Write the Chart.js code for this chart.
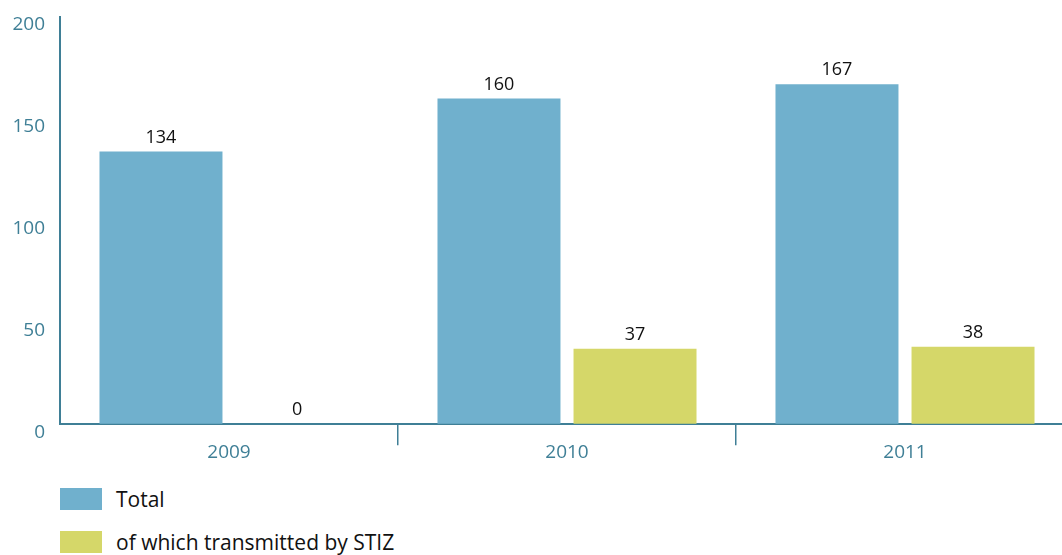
<!DOCTYPE html>
<html>
<head>
<meta charset="utf-8">
<script src="https://cdn.jsdelivr.net/npm/chart.js@4"></script>
<style>
  html, body { margin: 0; padding: 0; background: #fff; overflow: hidden; }
  body { width: 1062px; height: 555px; position: relative; font-family: "Open Sans", sans-serif; }
  #wrap { position: absolute; left: 0; top: 0; width: 1074px; height: 460px; }
  #legend { position: absolute; left: 60px; top: 487px; }
  .item { display: flex; align-items: center; height: 24px; margin-bottom: 19px; font-size: 21px; color: #111; }
  .swatch { width: 42px; height: 22px; margin-right: 14px; }
</style>
</head>
<body>
<div id="wrap"><canvas id="reportChart"></canvas></div>
<div id="legend"></div>
<script>
// Data
var years = ["2009", "2010", "2011"];
var totalReports = [134, 160, 167];
var stizReports = [0, 37, 38];
var yTicks = [0, 50, 100, 150, 200];

var axisColor = "#3f7f96";

// Draws the value above every bar
var valueLabels = {
    id: "valueLabels",
    afterDatasetsDraw: function(chart) {
        var ctx = chart.ctx;
        ctx.save();
        ctx.font = "18px 'Open Sans', sans-serif";
        ctx.fillStyle = "#111";
        ctx.textAlign = "center";
        ctx.textBaseline = "bottom";
        chart.data.datasets.forEach(function(ds, i) {
            chart.getDatasetMeta(i).data.forEach(function(bar, j) {
                ctx.fillText(ds.data[j], bar.x, bar.y - 5);
            });
        });
        ctx.restore();
    }
};

var ctx = document.getElementById("reportChart").getContext("2d");
var chart = new Chart(ctx, {
    type: "bar",
    data: {
        labels: years,
        datasets: [{
            label: "Total",
            backgroundColor: "#70b0cd",
            data: totalReports,
            barPercentage: 0.904,
            categoryPercentage: 0.805
        }, {
            label: "of which transmitted by STIZ",
            backgroundColor: "#d5d769",
            data: stizReports,
            barPercentage: 0.904,
            categoryPercentage: 0.805
        }]
    },
    options: {
        responsive: true,
        maintainAspectRatio: false,
        animation: false,
        layout: { padding: { top: 17, left: 10, right: 0, bottom: 0 } },
        plugins: {
            legend: { display: false },
            tooltip: { enabled: false }
        },
        scales: {
            x: {
                offset: true,
                grid: {
                    offset: true,
                    drawOnChartArea: false,
                    tickLength: 21,
                    lineWidth: 1.5,
                    color: function(c) { return c.index === 0 ? "transparent" : axisColor; }
                },
                border: { color: axisColor, width: 2 },
                ticks: {
                    color: axisColor,
                    padding: -4,
                    font: { family: "'Open Sans', sans-serif", size: 19 }
                }
            },
            y: {
                min: 0,
                max: 200,
                afterBuildTicks: function(axis) {
                    axis.ticks = yTicks.map(function(v) { return { value: v }; });
                },
                afterFit: function(axis) {
                    axis.width = 50;
                    axis.paddingTop = 0;
                    axis.paddingBottom = 0;
                },
                grid: { display: true, drawOnChartArea: false, drawTicks: false },
                border: { color: axisColor, width: 2 },
                ticks: {
                    color: axisColor,
                    padding: 15,
                    labelOffset: 8,
                    font: { family: "'Open Sans', sans-serif", size: 19 }
                }
            }
        }
    },
    plugins: [valueLabels]
});

// HTML legend built from the datasets
var legend = document.getElementById("legend");
chart.data.datasets.forEach(function(ds) {
    var item = document.createElement("div");
    item.className = "item";
    item.innerHTML = '<span class="swatch" style="background:' + ds.backgroundColor + '"></span>' + ds.label;
    legend.appendChild(item);
});
</script>
</body>
</html>
